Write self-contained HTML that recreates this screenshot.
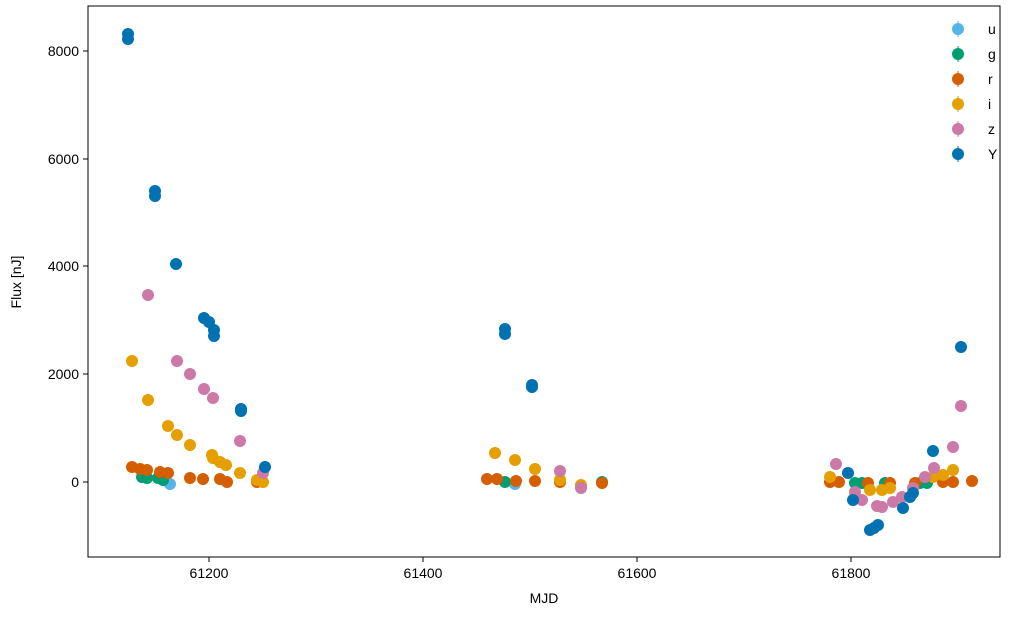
<!DOCTYPE html><html><head><style>body{margin:0;background:#fff}</style></head><body>
<svg width="1024" height="614" xmlns="http://www.w3.org/2000/svg" font-family="Liberation Sans, DejaVu Sans, sans-serif" font-size="14">
<rect x="88" y="6" width="912" height="551" fill="none" stroke="#000" stroke-width="1"/>
<g stroke="#000"><line x1="209" y1="557" x2="209" y2="562"/><line x1="423" y1="557" x2="423" y2="562"/><line x1="637" y1="557" x2="637" y2="562"/><line x1="851" y1="557" x2="851" y2="562"/>
<line x1="83" y1="51" x2="88" y2="51"/><line x1="83" y1="159" x2="88" y2="159"/><line x1="83" y1="266" x2="88" y2="266"/><line x1="83" y1="374" x2="88" y2="374"/><line x1="83" y1="482" x2="88" y2="482"/></g>
<g text-anchor="middle"><text x="209" y="578">61200</text><text x="423" y="578">61400</text><text x="637" y="578">61600</text><text x="851" y="578">61800</text><text x="544" y="603">MJD</text></g>
<g text-anchor="end"><text x="79" y="56">8000</text><text x="79" y="164">6000</text><text x="79" y="271">4000</text><text x="79" y="379">2000</text><text x="79" y="487">0</text></g>
<text transform="translate(21,282) rotate(-90)" text-anchor="middle">Flux [nJ]</text>
<g fill="#56B4E9"><circle cx="170" cy="484" r="6"/><circle cx="515" cy="484" r="6"/></g>
<g fill="#009E73"><circle cx="142" cy="477" r="6"/><circle cx="147" cy="478" r="6"/><circle cx="158" cy="478" r="6"/><circle cx="163" cy="480" r="6"/><circle cx="505" cy="482" r="6"/><circle cx="602" cy="482" r="6"/><circle cx="855" cy="483" r="6"/><circle cx="862" cy="483" r="6"/><circle cx="885" cy="483" r="6"/><circle cx="920" cy="483" r="6"/><circle cx="927" cy="483" r="6"/></g>
<g fill="#D55E00"><circle cx="132" cy="467" r="6"/><circle cx="140" cy="469" r="6"/><circle cx="147" cy="470" r="6"/><circle cx="160" cy="472" r="6"/><circle cx="168" cy="473" r="6"/><circle cx="190" cy="478" r="6"/><circle cx="203" cy="479" r="6"/><circle cx="220" cy="479" r="6"/><circle cx="227" cy="482" r="6"/><circle cx="257" cy="482" r="6"/><circle cx="487" cy="479" r="6"/><circle cx="497" cy="479" r="6"/><circle cx="516" cy="481" r="6"/><circle cx="535" cy="481" r="6"/><circle cx="560" cy="482" r="6"/><circle cx="602" cy="483" r="6"/><circle cx="830" cy="482" r="6"/><circle cx="839" cy="482" r="6"/><circle cx="868" cy="483" r="6"/><circle cx="890" cy="483" r="6"/><circle cx="915" cy="483" r="6"/><circle cx="943" cy="482" r="6"/><circle cx="953" cy="482" r="6"/><circle cx="972" cy="481" r="6"/></g>
<g fill="#E69F00"><circle cx="132" cy="361" r="6"/><circle cx="148" cy="400" r="6"/><circle cx="168" cy="426" r="6"/><circle cx="177" cy="435" r="6"/><circle cx="190" cy="445" r="6"/><circle cx="212" cy="455" r="6"/><circle cx="213" cy="458" r="6"/><circle cx="220" cy="462" r="6"/><circle cx="226" cy="465" r="6"/><circle cx="240" cy="473" r="6"/><circle cx="257" cy="480" r="6"/><circle cx="263" cy="482" r="6"/><circle cx="495" cy="453" r="6"/><circle cx="515" cy="460" r="6"/><circle cx="535" cy="469" r="6"/><circle cx="560" cy="480" r="6"/><circle cx="581" cy="485" r="6"/><circle cx="830" cy="477" r="6"/><circle cx="870" cy="490" r="6"/><circle cx="882" cy="490" r="6"/><circle cx="890" cy="488" r="6"/><circle cx="933" cy="477" r="6"/><circle cx="943" cy="475" r="6"/><circle cx="953" cy="470" r="6"/></g>
<g fill="#CC79A7"><circle cx="148" cy="295" r="6"/><circle cx="177" cy="361" r="6"/><circle cx="190" cy="374" r="6"/><circle cx="204" cy="389" r="6"/><circle cx="213" cy="398" r="6"/><circle cx="240" cy="441" r="6"/><circle cx="263" cy="473" r="6"/><circle cx="560" cy="471" r="6"/><circle cx="581" cy="488" r="6"/><circle cx="836" cy="464" r="6"/><circle cx="855" cy="492" r="6"/><circle cx="862" cy="500" r="6"/><circle cx="877" cy="506" r="6"/><circle cx="882" cy="507" r="6"/><circle cx="893" cy="502" r="6"/><circle cx="902" cy="497" r="6"/><circle cx="913" cy="488" r="6"/><circle cx="925" cy="477" r="6"/><circle cx="934" cy="468" r="6"/><circle cx="953" cy="447" r="6"/><circle cx="961" cy="406" r="6"/></g>
<g fill="#0072B2"><circle cx="128" cy="34" r="6"/><circle cx="128" cy="39" r="6"/><circle cx="155" cy="191" r="6"/><circle cx="155" cy="196" r="6"/><circle cx="176" cy="264" r="6"/><circle cx="204" cy="318" r="6"/><circle cx="209" cy="322" r="6"/><circle cx="214" cy="330" r="6"/><circle cx="214" cy="336" r="6"/><circle cx="241" cy="409" r="6"/><circle cx="241" cy="411" r="6"/><circle cx="265" cy="467" r="6"/><circle cx="505" cy="329" r="6"/><circle cx="505" cy="334" r="6"/><circle cx="532" cy="385" r="6"/><circle cx="532" cy="387" r="6"/><circle cx="848" cy="473" r="6"/><circle cx="853" cy="500" r="6"/><circle cx="870" cy="530" r="6"/><circle cx="874" cy="528" r="6"/><circle cx="878" cy="525" r="6"/><circle cx="903" cy="508" r="6"/><circle cx="910" cy="497" r="6"/><circle cx="913" cy="493" r="6"/><circle cx="933" cy="451" r="6"/><circle cx="961" cy="347" r="6"/></g>
<g>
<line x1="958" y1="21" x2="958" y2="37" stroke="#56B4E9"/><circle cx="958" cy="29" r="6" fill="#56B4E9"/><text x="988" y="34">u</text>
<line x1="958" y1="46" x2="958" y2="62" stroke="#009E73"/><circle cx="958" cy="54" r="6" fill="#009E73"/><text x="988" y="59">g</text>
<line x1="958" y1="71" x2="958" y2="87" stroke="#D55E00"/><circle cx="958" cy="79" r="6" fill="#D55E00"/><text x="988" y="84">r</text>
<line x1="958" y1="96" x2="958" y2="112" stroke="#E69F00"/><circle cx="958" cy="104" r="6" fill="#E69F00"/><text x="988" y="109">i</text>
<line x1="958" y1="121" x2="958" y2="137" stroke="#CC79A7"/><circle cx="958" cy="129" r="6" fill="#CC79A7"/><text x="988" y="134">z</text>
<line x1="958" y1="146" x2="958" y2="162" stroke="#0072B2"/><circle cx="958" cy="154" r="6" fill="#0072B2"/><text x="988" y="159">Y</text>
</g>
</svg></body></html>
